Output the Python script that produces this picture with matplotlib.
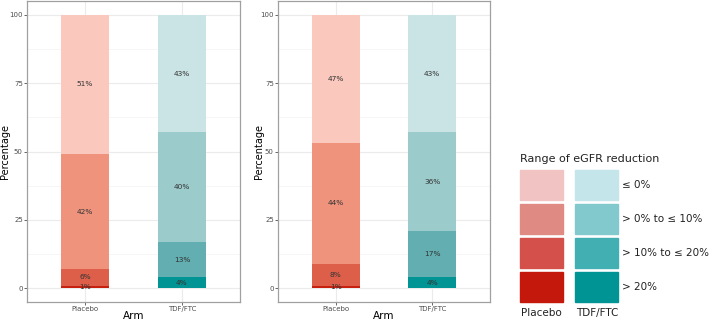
import numpy as np
import matplotlib
matplotlib.use('Agg')
import matplotlib.pyplot as plt
from matplotlib.patches import Rectangle

arms = ['Placebo', 'TDF/FTC']
levels = ['> 20%', '> 10% to \u2264 20%', '> 0% to \u2264 10%', '\u2264 0%']

# percentages per level (bottom to top: >20, 10-20, 0-10, <=0)
left_placebo = [1, 6, 42, 51]
left_tdf = [4, 13, 40, 43]
right_placebo = [1, 8, 44, 47]
right_tdf = [4, 17, 36, 43]

bar_placebo = ['#C8200F', '#DE5F49', '#EF937D', '#FAC8BD']
bar_tdf = ['#009494', '#62AEB1', '#9CCBCC', '#CAE3E5']
leg_placebo = ['#F1C3C3', '#E08A84', '#D4514B', '#C4180C']
leg_tdf = ['#C4E5E9', '#82C9CD', '#42AFB3', '#009494']

W, H = 709, 321
fig = plt.figure(figsize=(W / 100, H / 100), dpi=100)


def panel(rect, placebo, tdf, ylab_off):
    ax = fig.add_axes(rect)
    for i, (vals, cols) in enumerate([(placebo, bar_placebo), (tdf, bar_tdf)]):
        bottom = 0
        for v, c in zip(vals, cols):
            ax.bar(i + 1, v, bottom=bottom, width=0.5, color=c, zorder=3)
            ax.text(i + 1, bottom + v / 2, f'{v}%', ha='center', va='center',
                    fontsize=5.3, color='#333333', zorder=4)
            bottom += v
    ax.set_xlim(0.4, 2.6)
    ax.set_ylim(-5, 105)
    ax.set_xticks([1, 2])
    ax.set_xticklabels(arms)
    ax.set_yticks([0, 25, 50, 75, 100])
    ax.set_yticks([12.5, 37.5, 62.5, 87.5], minor=True)
    ax.grid(True, which='major', color='#EBEBEB', lw=0.8, zorder=0)
    ax.grid(True, which='minor', axis='y', color='#F3F3F3', lw=0.5, zorder=0)
    ax.tick_params(which='major', labelsize=5, colors='#4D4D4D', length=2, width=0.6, pad=1)
    ax.tick_params(which='minor', length=0)
    for s in ax.spines.values():
        s.set_color('#A0A0A0')
        s.set_linewidth(0.9)
    ax.set_ylabel('Percentage', fontsize=7, va='center')
    ax.yaxis.set_label_coords(-ylab_off / rect[2] / W, 0.5)
    ax.set_xlabel('Arm', fontsize=7.5, va='center')
    ax.xaxis.set_label_coords(0.5, -14 / (rect[3] * H))
    return ax


panel([27 / W, 1 - 302 / H, 213 / W, 301 / H], left_placebo, left_tdf, 22)
panel([278 / W, 1 - 302 / H, 212 / W, 301 / H], right_placebo, right_tdf, 19)

# manual legend
lg = fig.add_axes([0, 0, 1, 1])
lg.set_xlim(0, W)
lg.set_ylim(H, 0)
lg.axis('off')
lg.text(520, 159, 'Range of eGFR reduction', fontsize=8, va='center', ha='left', color='#222222')
rows_top = [170, 204, 238, 272]
for r, y in enumerate(rows_top):
    lg.add_patch(Rectangle((520, y), 43, 30, color=leg_placebo[r]))
    lg.add_patch(Rectangle((575, y), 43, 30, color=leg_tdf[r]))
    lg.text(622, y + 15, levels[3 - r], fontsize=7.5, va='center', ha='left', color='#222222')
lg.text(541, 313, 'Placebo', fontsize=7.5, va='center', ha='center', color='#222222')
lg.text(597, 313, 'TDF/FTC', fontsize=7.5, va='center', ha='center', color='#222222')

fig.savefig('out.png', dpi=100)
